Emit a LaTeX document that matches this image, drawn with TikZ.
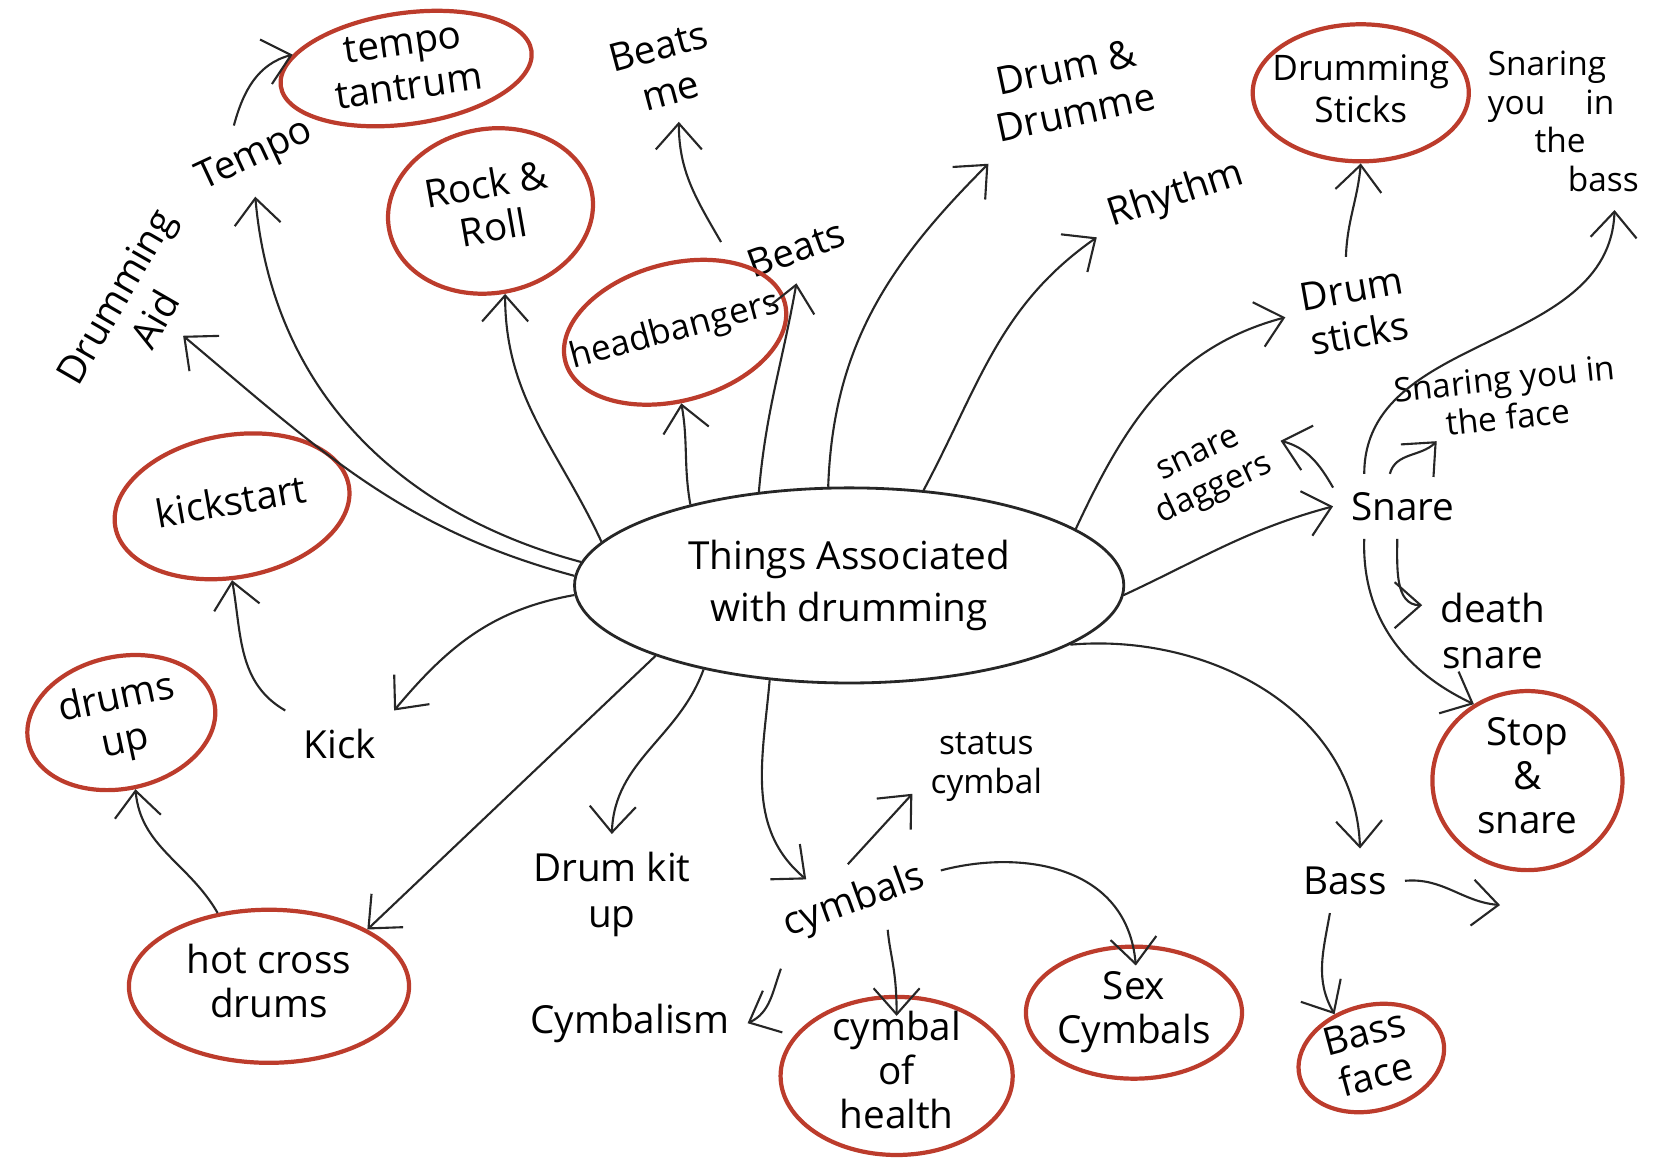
\documentclass[tikz,border=0pt]{standalone}
\usepackage{fontspec}
\setmainfont{Open Sans}
\usetikzlibrary{arrows.meta, shapes.geometric}

\definecolor{ringred}{RGB}{188,60,44}
\newcommand{\ringtext}[1]{\raisebox{-0.25em}{\makebox[0pt]{\begin{tabular}{@{}c@{}}#1\end{tabular}}}}

\begin{document}
\begin{tikzpicture}[
    x=0.010548cm, y=-0.010548cm,
    word/.style={font=\fontsize{11}{13}\selectfont, align=center, inner sep=5pt},
    smallword/.style={word, font=\fontsize{9.5}{11}\selectfont},
    idea/.style={ellipse, draw=ringred, line width=1.2pt, inner sep=0pt, text height=0pt, text depth=0pt, font=\fontsize{11}{12.5}\selectfont},
    hub/.style={ellipse, draw=black!85, line width=0.8pt, minimum width=5.49cm, minimum height=1.95cm, align=center, font=\fontsize{11}{15}\selectfont},
    arrow/.style={-{Straight Barb[length=2.6mm,width=4.6mm]}, line width=0.6pt, black!85}
]
\useasboundingbox (0,0) rectangle (1568,1109);

% --- Centre ---
\node[hub] (hub) at (805,555) {Things Associated\\with drumming};

% --- Upper left ---
\node[word, rotate=60] (aid) at (128,292) {Drumming\\Aid};
\node[word, rotate=25] (tempo) at (242,148) {Tempo};
\node[idea, rotate=8, minimum width=2.53cm, minimum height=1.11cm] (tantrum) at (385,65) {\ringtext{tempo\\tantrum}};
\node[idea, rotate=10, minimum width=2.06cm, minimum height=1.64cm] (rockroll) at (465,200) {\ringtext{Rock \&\\Roll}};
\node[word, rotate=15] (beatsme) at (630,65) {Beats\\me};
\node[word, rotate=20] (beats) at (755,236) {Beats};
\node[idea, rotate=15, minimum width=2.27cm, minimum height=1.37cm, font=\fontsize{10}{12}\selectfont] (headbangers) at (640,315) {\ringtext{headbangers}};

% --- Upper right ---
\node[word, rotate=12] (drummer) at (1015,85) {Drum \&\\Drumme};
\node[word, rotate=18] (rhythm) at (1115,185) {Rhythm};
\node[idea, minimum width=2.16cm, minimum height=1.37cm, font=\fontsize{10}{12}\selectfont] (dsticks) at (1290,88) {\ringtext{Drumming\\Sticks}};
\node[smallword, align=left] (bsnaring) at (1482,115) {Snaring\\you\hspace{1.2em}in\\\hspace{1.4em}the\\\hspace{2.4em}bass};
\node[word, rotate=10] (sticks) at (1285,295) {Drum\\sticks};

% --- Snare ---
\node[smallword, rotate=25] (daggers) at (1145,450) {snare\\daggers};
\node[smallword, rotate=6, inner sep=1pt] (face) at (1428,377) {Snaring you in\\the face};
\node[word] (snare) at (1330,480) {Snare};
\node[word] (death) at (1415,598) {death\\snare};
\node[idea, minimum width=1.90cm, minimum height=1.79cm] (stopsnare) at (1448,740) {\ringtext{Stop\\\&\\snare}};

% --- Bass ---
\node[word] (bass) at (1275,835) {Bass};
\coordinate (bassend) at (1422,858);
\node[idea, rotate=15, minimum width=1.48cm, minimum height=1.05cm] (bassface) at (1300,1003) {\ringtext{Bass\\face}};

% --- Cymbals ---
\node[word, rotate=20] (cymbals) at (810,855) {cymbals};
\node[smallword] (status) at (935,727) {status\\cymbal};
\node[idea, minimum width=2.16cm, minimum height=1.32cm] (sexcymbals) at (1075,960) {\ringtext{Sex\\Cymbals}};
\node[idea, minimum width=2.32cm, minimum height=1.58cm] (health) at (850,1020) {\ringtext{cymbal\\of\\health}};
\node[word] (cymbalism) at (597,970) {Cymbalism};
\node[word] (kitup) at (580,848) {Drum kit\\up};

% --- Lower left ---
\node[idea, minimum width=2.80cm, minimum height=1.53cm] (hotcross) at (255,935) {\ringtext{hot cross\\drums}};
\node[idea, rotate=12, minimum width=1.90cm, minimum height=1.32cm] (drumsup) at (115,685) {\ringtext{drums\\up}};
\node[word] (kick) at (322,705) {Kick};
\node[idea, rotate=10, minimum width=2.37cm, minimum height=1.42cm] (kickstart) at (220,480) {\ringtext{kickstart}};

% --- Arrows from the centre ---
\draw[arrow] (hub.178) to[out=165,in=-40] (aid.south);
\draw[arrow] (hub.175) to[out=165,in=-85] (tempo.-115);
\draw[arrow] (hub.170) to[out=115,in=-90] (rockroll.south);
\draw[arrow] (hub.153) to[out=100,in=-80] (headbangers.-100);
\draw[arrow] (hub.134) to[out=85,in=-100] (beats.-110);
\draw[arrow] (hub.102) to[out=88,in=-135] (drummer.-150);
\draw[arrow] (hub.52) to[out=62,in=-145] (rhythm.190);
\draw[arrow] (hub.14) to[out=65,in=-165] (sticks.175);
\draw[arrow] (hub.-2) to[out=25,in=195] (snare.west);
\draw[arrow] (hub.-15) to[out=5,in=92] (bass.65);
\draw[arrow] (hub.-130) to[out=-95,in=140] (cymbals.135);
\draw[arrow] (hub.-150) to[out=-110,in=88] (kitup.north);
\draw[arrow] (hub.-160) -- (hotcross.30);
\draw[arrow] (hub.182) to[out=190,in=50] (kick.north east);

% --- Second level ---
\draw[arrow] (tempo.100) to[out=75,in=195] (tantrum.165);
\draw[arrow] (beats.north west) to[out=120,in=-90] (beatsme.south);
\draw[arrow] (sticks.north) to[out=88,in=-95] (dsticks.south);
\draw[arrow] (snare.165) to[out=120,in=-15] (daggers.east);
\draw[arrow] (snare.140) to[out=90,in=-92] (bsnaring.-60);
\draw[arrow] (snare.112) to[out=75,in=225] (face.-154);
\draw[arrow] (snare.-100) to[out=-90,in=180] (death.160);
\draw[arrow] (snare.-140) to[out=-92,in=155] (stopsnare.125);
\draw[arrow] (bass.east) to[out=5,in=175] (bassend);
\draw[arrow] (bass.-115) to[out=-100,in=120] (bassface.115);
\draw[arrow, shorten >=-6pt] (cymbals.east) to[out=15,in=95] (sexcymbals.north);
\draw[arrow] (cymbals.80) -- (status.200);
\draw[arrow] (cymbals.south west) to[out=-110,in=25] (cymbalism.east);
\draw[arrow, shorten >=-6pt] (cymbals.-60) to[out=-85,in=90] (health.north);
\draw[arrow] (kick.north west) to[out=150,in=-80] (kickstart.-100);
\draw[arrow] (hotcross.125) to[out=120,in=-85] (drumsup.south);

\end{tikzpicture}
\end{document}
